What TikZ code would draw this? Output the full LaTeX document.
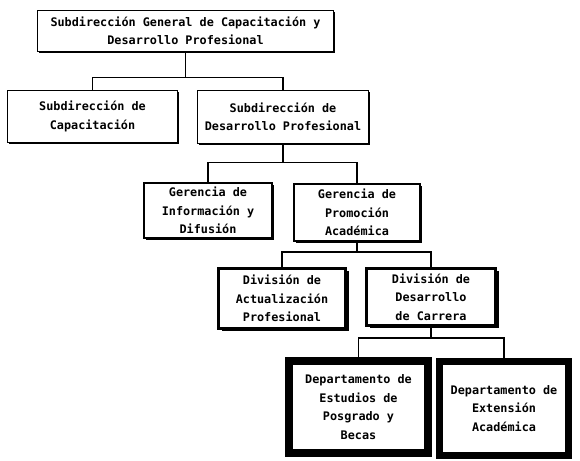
\documentclass[tikz,border=0pt]{standalone}
\usepackage{fontspec}
\newfontfamily\orgfont{DejaVu Sans Mono}
\usetikzlibrary{shadows}
\tikzset{
  orgbox/.style={draw=black, fill=white, rectangle, align=center, inner sep=0pt,
    font=\orgfont\bfseries\fontsize{11.8}{18.5}\selectfont},
  lvlone/.style={orgbox, line width=1.4pt,
    drop shadow={shadow xshift=1.2pt, shadow yshift=-1.2pt, fill=black, opacity=1}},
  lvltwo/.style={orgbox, line width=2pt,
    drop shadow={shadow xshift=1.5pt, shadow yshift=-1.5pt, fill=black, opacity=1}},
  lvlthree/.style={orgbox, line width=3pt,
    drop shadow={shadow xshift=3pt, shadow yshift=-2pt, fill=black, opacity=1}},
  lvlfour/.style={orgbox, line width=8pt,
    drop shadow={shadow xshift=3pt, shadow yshift=-1pt, fill=black, opacity=1}},
  link/.style={draw=black, line width=1.3pt}
}
\begin{document}
\begin{tikzpicture}[x=1pt,y=-1pt]
\useasboundingbox[fill=white] (0,0) rectangle (580,460);

\node[lvlone, minimum width=296pt, minimum height=41pt] (b1) at (185.5,31)
  {Subdirección General de Capacitación y\\Desarrollo Profesional};
\node[lvlone, minimum width=170pt, minimum height=52pt] (b2) at (92.5,116.5)
  {Subdirección de\\Capacitación};
\node[lvlone, minimum width=171pt, minimum height=53pt] (b3) at (283,117)
  {Subdirección de\\Desarrollo Profesional};
\node[lvltwo, minimum width=128pt, minimum height=55pt] (b4) at (208,210.5)
  {Gerencia de\\Información y\\Difusión};
\node[lvltwo, minimum width=126pt, minimum height=57pt] (b5) at (357,212.5)
  {Gerencia de\\Promoción\\Académica};
\node[lvlthree, minimum width=127pt, minimum height=60pt] (b6) at (282,298.5)
  {División de\\Actualización\\Profesional};
\node[lvlthree, minimum width=129pt, minimum height=57pt] (b7) at (431,297)
  {División de\\Desarrollo\\de Carrera};
\node[lvlfour, minimum width=139pt, minimum height=92pt] (b8) at (358.5,407)
  {Departamento de\\Estudios de\\Posgrado y\\Becas};
\node[lvlfour, line width=7pt, minimum width=129pt, minimum height=94pt] (b9) at (504,408.5)
  {Departamento de\\Extensión\\Académica};

\draw[link] (b1.south) -- ++(0,25) -| (b2.north);
\draw[link] (b1.south) -- ++(0,25) -| (b3.north);
\draw[link] (b3.south) -- ++(0,18) -| (b4.north);
\draw[link] (b3.south) -- ++(0,18) -| (b5.north);
\draw[link] (b5.south) -- ++(0,10) -| (b6.north);
\draw[link] (b5.south) -- ++(0,10) -| (b7.north);
\draw[link] (b7.south) -- ++(0,11) -| (b8.north);
\draw[link] (b7.south) -- ++(0,11) -| (b9.north);
\end{tikzpicture}
\end{document}
